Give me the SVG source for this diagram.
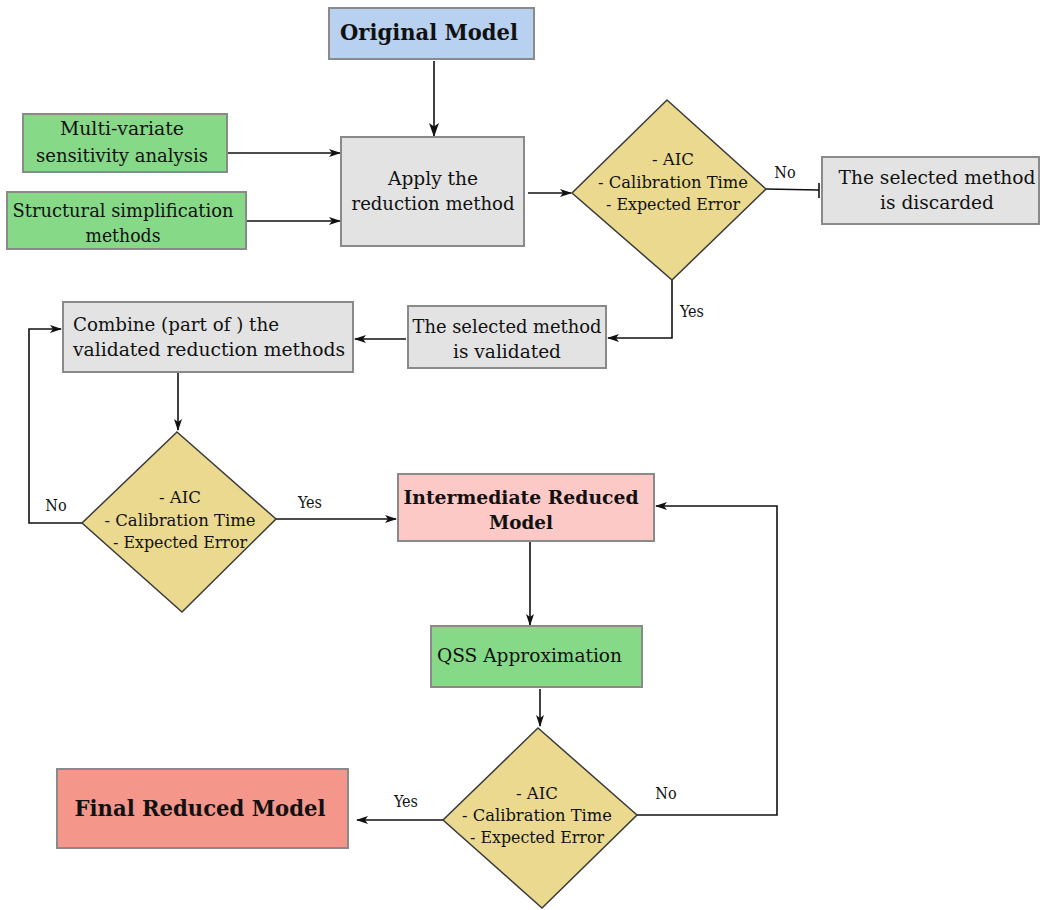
<svg xmlns="http://www.w3.org/2000/svg" width="1040" height="910" viewBox="0 0 1040 910">
<style>
text{font-family:"DejaVu Serif","Liberation Serif",serif;font-stretch:condensed;fill:#111;text-anchor:middle}
.t{font-size:18.5px}
.d{font-size:17px}
.b{font-weight:bold}
.lbl{font-size:16px}
.box{stroke:#8a8a8a;stroke-width:2}
.gray{fill:#e3e3e3}
.green{fill:#86d987}
.dia{fill:#ead98f;stroke:#3a3a3a;stroke-width:1.5}
.c{fill:none;stroke:#111;stroke-width:1.6}
</style>
<defs>
<marker id="ah" viewBox="0 0 12 8" refX="11" refY="4" markerWidth="12" markerHeight="8" markerUnits="userSpaceOnUse" orient="auto">
<path d="M0,0 L12,4 L0,8 L3,4 z" fill="#111"/>
</marker>
<marker id="ahb" viewBox="0 0 14 10" refX="13" refY="5" markerWidth="14" markerHeight="10" markerUnits="userSpaceOnUse" orient="auto">
<path d="M0,0 L14,5 L0,10 L3.5,5 z" fill="#111"/>
</marker>
</defs>

<g id="connectors">
<path class="c" d="M434,61 V136" stroke-width="2.2" marker-end="url(#ahb)"/>
<path class="c" d="M227,153 H340" marker-end="url(#ah)"/>
<path class="c" d="M246,221 H340" marker-end="url(#ah)"/>
<path class="c" d="M528,193 H571" marker-end="url(#ah)"/>
<path class="c" d="M766,189 L819,190"/>
<path class="c" d="M819,183 V198"/>
<path class="c" d="M672,280 V338 H608" marker-end="url(#ah)"/>
<path class="c" d="M406,339 H355" marker-end="url(#ah)"/>
<path class="c" d="M178,372 V430" marker-end="url(#ah)"/>
<path class="c" d="M82,523 H29 V329 H61" marker-end="url(#ah)"/>
<path class="c" d="M276,519 H396" marker-end="url(#ah)"/>
<path class="c" d="M530,541 V625" marker-end="url(#ah)"/>
<path class="c" d="M540,689 V726" marker-end="url(#ah)"/>
<path class="c" d="M637,815 H777 V506 H656" marker-end="url(#ah)"/>
<path class="c" d="M443,820 H357" marker-end="url(#ah)"/>
<text class="lbl" x="785" y="178">No</text>
<text class="lbl" x="692" y="317">Yes</text>
<text class="lbl" x="56" y="511">No</text>
<text class="lbl" x="310" y="508">Yes</text>
<text class="lbl" x="666" y="799">No</text>
<text class="lbl" x="406" y="807">Yes</text>
</g>

<g id="original-model">
<rect class="box" x="329" y="8" width="205" height="51" fill="#b8d1f0"/>
<text class="b" x="429" y="40" font-size="22" textLength="178" lengthAdjust="spacingAndGlyphs">Original Model</text>
</g>

<g id="multivariate">
<rect class="box green" x="23" y="114" width="204" height="58"/>
<text class="t" x="122" y="135" textLength="124" lengthAdjust="spacingAndGlyphs">Multi-variate</text>
<text class="t" x="122" y="162" textLength="172" lengthAdjust="spacingAndGlyphs">sensitivity analysis</text>
</g>

<g id="structural">
<rect class="box green" x="7" y="192" width="239" height="57"/>
<text class="t" x="123" y="217" textLength="221" lengthAdjust="spacingAndGlyphs">Structural simplification</text>
<text class="t" x="123" y="242" textLength="75" lengthAdjust="spacingAndGlyphs">methods</text>
</g>

<g id="apply">
<rect class="box gray" x="341" y="137" width="183" height="109"/>
<text class="t" x="433" y="185" textLength="90" lengthAdjust="spacingAndGlyphs">Apply the</text>
<text class="t" x="433" y="210" textLength="163" lengthAdjust="spacingAndGlyphs">reduction method</text>
</g>

<g id="decision-1">
<path class="dia" d="M667,100 L766,189 L672,280 L572,193 Z"/>
<text class="d" x="673" y="165" textLength="42" lengthAdjust="spacingAndGlyphs">- AIC</text>
<text class="d" x="673" y="188" textLength="150" lengthAdjust="spacingAndGlyphs">- Calibration Time</text>
<text class="d" x="673" y="210" textLength="134" lengthAdjust="spacingAndGlyphs">- Expected Error</text>
</g>

<g id="discarded">
<rect class="box gray" x="822" y="157" width="217" height="67"/>
<text class="t" x="937" y="184" textLength="197" lengthAdjust="spacingAndGlyphs">The selected  method</text>
<text class="t" x="937" y="209" textLength="114" lengthAdjust="spacingAndGlyphs">is discarded</text>
</g>

<g id="validated">
<rect class="box gray" x="408" y="306" width="198" height="62"/>
<text class="t" x="507" y="333" textLength="189" lengthAdjust="spacingAndGlyphs">The selected method</text>
<text class="t" x="507" y="358" textLength="108" lengthAdjust="spacingAndGlyphs">is validated</text>
</g>

<g id="combine">
<rect class="box gray" x="63" y="302" width="290" height="70"/>
<text class="t" x="73" y="331" style="text-anchor:start" textLength="206" lengthAdjust="spacingAndGlyphs">Combine (part of ) the</text>
<text class="t" x="73" y="356" style="text-anchor:start" textLength="272" lengthAdjust="spacingAndGlyphs">validated  reduction methods</text>
</g>

<g id="decision-2">
<path class="dia" d="M177,432 L276,519 L182,612 L82,523 Z"/>
<text class="d" x="180" y="503" textLength="42" lengthAdjust="spacingAndGlyphs">- AIC</text>
<text class="d" x="180" y="526" textLength="151" lengthAdjust="spacingAndGlyphs">- Calibration Time</text>
<text class="d" x="180" y="548" textLength="134" lengthAdjust="spacingAndGlyphs">- Expected Error</text>
</g>

<g id="intermediate">
<rect class="box" x="398" y="474" width="256" height="67" fill="#fdc9c6"/>
<text class="b" x="521" y="504" font-size="19" textLength="235" lengthAdjust="spacingAndGlyphs">Intermediate Reduced</text>
<text class="b" x="521" y="529" font-size="19" textLength="64" lengthAdjust="spacingAndGlyphs">Model</text>
</g>

<g id="qss">
<rect class="box green" x="431" y="626" width="211" height="61"/>
<text class="t" x="437" y="662" style="text-anchor:start" textLength="185" lengthAdjust="spacingAndGlyphs">QSS Approximation</text>
</g>

<g id="decision-3">
<path class="dia" d="M538,728 L637,815 L542,908 L443,820 Z"/>
<text class="d" x="537" y="799" textLength="42" lengthAdjust="spacingAndGlyphs">- AIC</text>
<text class="d" x="537" y="821" textLength="150" lengthAdjust="spacingAndGlyphs">- Calibration Time</text>
<text class="d" x="537" y="843" textLength="134" lengthAdjust="spacingAndGlyphs">- Expected Error</text>
</g>

<g id="final">
<rect class="box" x="57" y="769" width="291" height="79" fill="#f4968a"/>
<text class="b" x="200" y="816" font-size="23" textLength="251" lengthAdjust="spacingAndGlyphs">Final Reduced Model</text>
</g>
</svg>
